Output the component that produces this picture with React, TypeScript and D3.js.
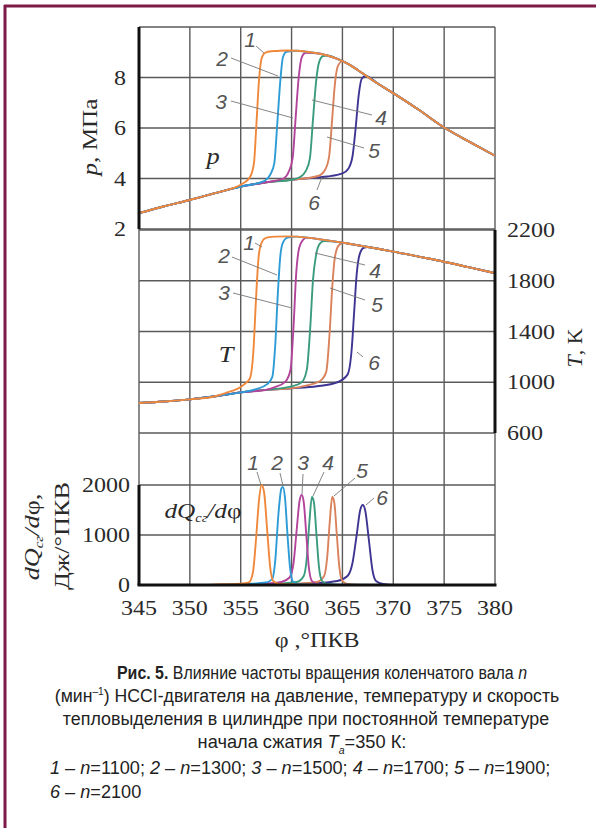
import React from "react";
import * as d3 from "d3";

// crank angle axis, tick labels of the three panels
const PHI_TICKS = [345, 350, 355, 360, 365, 370, 375, 380];
const P_TICKS = [2, 4, 6, 8];
const T_TICKS = [600, 1000, 1400, 1800, 2200];
const Q_TICKS = [0, 1000, 2000];

const SERIES = ["1", "2", "3", "4", "5", "6"];
const COLORS = ["#f0883c", "#2d9bd6", "#b3449b", "#3b9b7e", "#d9825c", "#3e3592"];

// pressure, MPa: shared compression and expansion, plus each combustion rise
const P_COMPRESSION = [[345, 2.63], [347.5, 2.9], [350, 3.15], [352.5, 3.42], [355, 3.68], [357.5, 3.85], [360, 3.95], [362.5, 4.04], [365, 4.15]];
const P_EXPANSION = [[358.5, 9.05], [359.5, 9.07], [360.5, 9.06], [361.5, 9.02], [362.5, 8.96], [363.5, 8.87], [364.5, 8.74], [365.5, 8.55], [366.5, 8.3], [367.5, 8.02], [368.5, 7.75], [370, 7.38], [372.5, 6.72], [375, 6.02], [377.5, 5.45], [380, 4.9]];
const P_RISE = [
  [[355.2, 3.8], [355.9, 4.05], [356.3, 4.6], [356.55, 6.2], [356.8, 7.9], [357.05, 8.75], [357.4, 8.98], [358.0, 9.04]],
  [[357.3, 3.9], [357.9, 4.15], [358.3, 4.6], [358.6, 6.2], [358.9, 7.9], [359.15, 8.8], [359.5, 9.02]],
  [[359.2, 4.0], [359.7, 4.25], [360.1, 4.8], [360.4, 6.4], [360.7, 8.0], [361.0, 8.8], [361.4, 8.98]],
  [[360.8, 4.05], [361.4, 4.3], [361.8, 4.8], [362.1, 6.3], [362.4, 7.8], [362.7, 8.6], [363.1, 8.85]],
  [[362.6, 4.1], [363.3, 4.35], [363.7, 4.9], [364.0, 6.4], [364.25, 7.7], [364.55, 8.45], [365.0, 8.65]],
  [[363.5, 4.08], [365.0, 4.2], [365.6, 4.4], [366.0, 4.9], [366.3, 6.0], [366.6, 7.3], [366.9, 7.95], [367.3, 8.06]],
];

// temperature, K
const T_COMPRESSION = [[345, 836], [347.5, 848], [350, 865], [352.5, 890], [355, 920], [357.5, 940], [360, 952], [362.5, 963], [365, 975]];
const T_EXPANSION = [[358.5, 2148], [359.5, 2150], [360.5, 2148], [361.5, 2140], [362.5, 2130], [363.5, 2118], [364.5, 2106], [365.5, 2094], [366.5, 2080], [367.5, 2066], [368.5, 2052], [370, 2030], [372.5, 1990], [375, 1950], [377.5, 1905], [380, 1860]];
const T_RISE = [
  [[353.5, 915], [355.2, 975], [355.9, 1030], [356.25, 1250], [356.5, 1650], [356.75, 1980], [357.0, 2090], [357.4, 2135], [358.0, 2146]],
  [[356.5, 945], [357.6, 985], [358.1, 1040], [358.4, 1300], [358.65, 1700], [358.9, 2000], [359.15, 2100], [359.6, 2140]],
  [[358.3, 960], [359.4, 1005], [359.9, 1100], [360.2, 1450], [360.45, 1850], [360.75, 2060], [361.1, 2120]],
  [[360.0, 968], [361.0, 1000], [361.5, 1100], [361.85, 1450], [362.1, 1800], [362.4, 2000], [362.8, 2095], [363.2, 2112]],
  [[361.5, 975], [362.8, 1010], [363.4, 1080], [363.75, 1400], [364.0, 1750], [364.25, 1980], [364.6, 2075], [365.0, 2098]],
  [[362.5, 968], [364.5, 1000], [365.5, 1060], [365.9, 1250], [366.15, 1550], [366.4, 1850], [366.7, 2010], [367.1, 2060]],
];

// heat release rate dQ/dphi, J/deg
const Q_RATE = [
  [[345, 0], [351, 0], [353, 15], [355, 25], [355.8, 50], [356.2, 250], [356.5, 900], [356.8, 1700], [357.05, 2000], [357.3, 1850], [357.6, 1100], [357.9, 350], [358.2, 80], [358.8, 20], [360, 10], [362, 0], [380, 0]],
  [[345, 0], [353, 0], [355.5, 20], [357.5, 50], [358.1, 120], [358.4, 500], [358.7, 1400], [359.0, 1930], [359.15, 1960], [359.35, 1750], [359.6, 1000], [359.85, 350], [360.1, 80], [360.6, 20], [362, 5], [380, 0]],
  [[345, 0], [355, 0], [357, 20], [359, 60], [359.8, 150], [360.2, 450], [360.5, 1100], [360.8, 1700], [361.0, 1800], [361.2, 1650], [361.45, 1000], [361.7, 350], [362.0, 80], [362.5, 20], [364, 0], [380, 0]],
  [[345, 0], [356, 0], [358, 15], [360.5, 60], [361.2, 180], [361.5, 550], [361.75, 1250], [362.0, 1765], [362.2, 1650], [362.45, 1000], [362.7, 350], [363.0, 80], [363.5, 20], [365, 0], [380, 0]],
  [[345, 0], [357, 0], [360, 20], [362.5, 60], [363.2, 180], [363.5, 550], [363.75, 1250], [364.0, 1765], [364.2, 1650], [364.45, 1000], [364.7, 350], [365.0, 80], [365.5, 20], [367, 0], [380, 0]],
  [[345, 0], [358, 0], [362, 30], [364.5, 80], [365.5, 180], [366.0, 450], [366.4, 1000], [366.75, 1500], [367.0, 1600], [367.25, 1480], [367.6, 900], [367.95, 300], [368.3, 80], [369, 20], [370, 0], [380, 0]],
];

// curve numbers with leader lines: [text x, text y, leader x1, y1, x2, y2]
const P_NOTES = [[250, 47, 256, 46, 264, 53], [222, 66, 231, 58, 278, 76], [221, 109, 231, 101, 293, 118], [381, 125, 372, 115, 312, 100], [374, 158, 364, 148, 327, 137], [314, 210, 317, 190, 322, 177]];
const T_NOTES = [[249, 250, 255, 243, 262, 247], [224, 263, 232, 257, 277, 275], [224, 300, 233, 293, 292, 308], [375, 278, 365, 265, 315, 253], [377, 312, 365, 300, 330, 288], [374, 370, 363, 357, 357, 352]];
const Q_NOTES = [[253, 470, 257, 472, 261, 485], [277, 470, 280, 473, 283, 486], [303, 470, 303, 474, 302, 494], [328, 470, 324, 472, 313, 496], [362, 478, 355, 478, 334, 496], [382, 505, 374, 498, 366, 505]];

const SERIF = "'Liberation Serif', 'Times New Roman', serif";
const SANS = "'Liberation Sans', Arial, sans-serif";

// build one full curve from compression + rise + expansion
function joinCurve(comp, rise, exp) {
  const first = rise[0][0];
  const last = rise[rise.length - 1][0];
  return [
    ...comp.filter((d) => d[0] < first - 0.3),
    ...rise,
    ...exp.filter((d) => d[0] > last + 0.3),
  ];
}

function SText({ x, y, sx = 1, rotate = 0, anchor = "middle", children, ...rest }) {
  return (
    <text transform={`translate(${x},${y}) rotate(${rotate}) scale(${sx},1)`} textAnchor={anchor} {...rest}>
      {children}
    </text>
  );
}

export default function App() {
  const x = d3.scaleLinear().domain([345, 380]).range([139, 495]);
  const yP = d3.scaleLinear().domain([2, 10]).range([229, 27]);
  const yT = d3.scaleLinear().domain([600, 2200]).range([433, 230]);
  const yQ = d3.scaleLinear().domain([0, 2000]).range([585, 485]);

  const lineP = d3.line().x((d) => x(d[0])).y((d) => yP(d[1])).curve(d3.curveMonotoneX);
  const lineT = d3.line().x((d) => x(d[0])).y((d) => yT(d[1])).curve(d3.curveMonotoneX);
  const lineQ = d3.line().x((d) => x(d[0])).y((d) => yQ(d[1])).curve(d3.curveMonotoneX);

  const pCurves = P_RISE.map((r) => joinCurve(P_COMPRESSION, r, P_EXPANSION));
  const tCurves = T_RISE.map((r) => joinCurve(T_COMPRESSION, r, T_EXPANSION));

  // horizontal grid rows from all three scales
  const rows = [yP(10), ...P_TICKS.map(yP), ...T_TICKS.map(yT), ...Q_TICKS.map(yQ)];
  const order = [5, 4, 3, 2, 1, 0];

  const tick = { fontFamily: SERIF, fontSize: 20, fill: "#2a2a2a" };
  const note = { fontFamily: SANS, fontSize: 21, fontStyle: "italic", fill: "#555" };
  const cap = { fontFamily: SANS, fontSize: 19, fill: "#222" };

  const notes = (list, key) =>
    list.map((n, i) => (
      <g key={key + i}>
        <line x1={n[2]} y1={n[3]} x2={n[4]} y2={n[5]} stroke="#777" strokeWidth={0.9} />
        <text x={n[0]} y={n[1]} textAnchor="middle" {...note}>{SERIES[i]}</text>
      </g>
    ));

  return (
    <svg width={596} height={828} style={{ position: "absolute", left: 0, top: 0, background: "#fff" }}>
      <rect width={596} height={828} fill="#fff" />
      {/* frame */}
      <line x1={5} y1={5} x2={5} y2={828} stroke="#7d1a48" strokeWidth={3} />
      <line x1={4} y1={6} x2={596} y2={6} stroke="#7d1a48" strokeWidth={3} />

      {/* grid */}
      {PHI_TICKS.map((t) => (
        <line key={"v" + t} x1={x(t)} x2={x(t)} y1={yP(10)} y2={yQ(0)} stroke="#5a5a5a" strokeWidth={1.4} />
      ))}
      {rows.map((r, i) => (
        <line key={"h" + i} x1={x(345)} x2={x(380)} y1={r} y2={r} stroke="#5a5a5a" strokeWidth={1.4} />
      ))}

      {/* curves */}
      {order.map((i) => (
        <path key={"p" + i} d={lineP(pCurves[i])} fill="none" stroke={COLORS[i]} strokeWidth={1.9} />
      ))}
      {order.map((i) => (
        <path key={"t" + i} d={lineT(tCurves[i])} fill="none" stroke={COLORS[i]} strokeWidth={1.9} />
      ))}
      {order.map((i) => (
        <path key={"q" + i} d={lineQ(Q_RATE[i])} fill="none" stroke={COLORS[i]} strokeWidth={1.9} />
      ))}

      {/* thick axes */}
      <line x1={x(345)} x2={x(345)} y1={yP(10)} y2={yP(2)} stroke="#111" strokeWidth={3} />
      <line x1={x(345)} x2={x(345)} y1={yQ(2000)} y2={yQ(0)} stroke="#111" strokeWidth={3} />
      <line x1={x(345) - 1.5} x2={x(380) + 1.5} y1={yQ(0)} y2={yQ(0)} stroke="#111" strokeWidth={3} />
      <line x1={x(380)} x2={x(380)} y1={yT(2200)} y2={yT(600)} stroke="#111" strokeWidth={3} />

      {/* tick labels */}
      {P_TICKS.map((t) => (
        <SText key={"pl" + t} x={126} y={yP(t) + 7} sx={1.2} anchor="end" {...tick}>{t}</SText>
      ))}
      {T_TICKS.map((t) => (
        <SText key={"tl" + t} x={507} y={yT(t) + 7} sx={1.2} anchor="start" {...tick}>{t}</SText>
      ))}
      {Q_TICKS.map((t) => (
        <SText key={"ql" + t} x={130} y={yQ(t) + 7} sx={1.2} anchor="end" {...tick}>{t}</SText>
      ))}
      {PHI_TICKS.map((t) => (
        <SText key={"xl" + t} x={x(t)} y={615} sx={1.2} {...tick}>{t}</SText>
      ))}

      {/* axis titles */}
      <SText x={97} y={137} rotate={-90} sx={1.2} {...tick} fontSize={21}>
        <tspan fontStyle="italic">p</tspan>, МПа
      </SText>
      <SText x={582} y={348} rotate={-90} sx={1.1} {...tick}>
        <tspan fontStyle="italic">T</tspan>, K
      </SText>
      <SText x={39} y={537} rotate={-90} sx={1.25} {...tick} fontSize={21}>
        <tspan fontStyle="italic">dQ</tspan>
        <tspan fontStyle="italic" fontSize={12} dy={4}>сг</tspan>
        <tspan fontStyle="italic" dy={-4}>/d</tspan>φ,
      </SText>
      <SText x={69} y={536} rotate={-90} sx={1.25} {...tick} fontSize={21}>
        Дж/°ПКВ
      </SText>
      <SText x={317} y={647} sx={1.2} {...tick}>φ ,°ПКВ</SText>

      {/* panel names */}
      <SText x={213} y={164} sx={1.1} {...tick} fontSize={24} fontStyle="italic">p</SText>
      <SText x={226} y={362} sx={1.1} {...tick} fontSize={24} fontStyle="italic">T</SText>
      <SText x={203} y={518} sx={1.2} {...tick} fontSize={21} fontStyle="italic">
        dQ<tspan fontSize={12} dy={4}>сг</tspan><tspan dy={-4}>/d</tspan><tspan fontStyle="normal">φ</tspan>
      </SText>

      {notes(P_NOTES, "pn")}
      {notes(T_NOTES, "tn")}
      {notes(Q_NOTES, "qn")}

      {/* caption */}
      <SText x={322} y={679} sx={0.84} {...cap}>
        <tspan fontWeight="bold">Рис. 5.</tspan> Влияние частоты вращения коленчатого вала <tspan fontStyle="italic">n</tspan>
      </SText>
      <SText x={307} y={702} sx={0.93} {...cap}>
        (мин<tspan fontSize={11} dy={-7}>–1</tspan><tspan dy={7}>) HCCI-двигателя на давление, температуру и скорость</tspan>
      </SText>
      <SText x={306} y={725} sx={0.94} {...cap}>
        тепловыделения в цилиндре при постоянной температуре
      </SText>
      <SText x={302} y={748} sx={0.96} {...cap}>
        начала сжатия <tspan fontStyle="italic">T</tspan><tspan fontStyle="italic" fontSize={11} dy={6}>a</tspan><tspan dy={-6}>=350 К:</tspan>
      </SText>
      <SText x={50} y={774} sx={0.955} anchor="start" {...cap}>
        <tspan fontStyle="italic">1 – n</tspan>=1100; <tspan fontStyle="italic">2 – n</tspan>=1300; <tspan fontStyle="italic">3 – n</tspan>=1500; <tspan fontStyle="italic">4 – n</tspan>=1700; <tspan fontStyle="italic">5 – n</tspan>=1900;
      </SText>
      <SText x={50} y={798} sx={0.955} anchor="start" {...cap}>
        <tspan fontStyle="italic">6 – n</tspan>=2100
      </SText>
    </svg>
  );
}
